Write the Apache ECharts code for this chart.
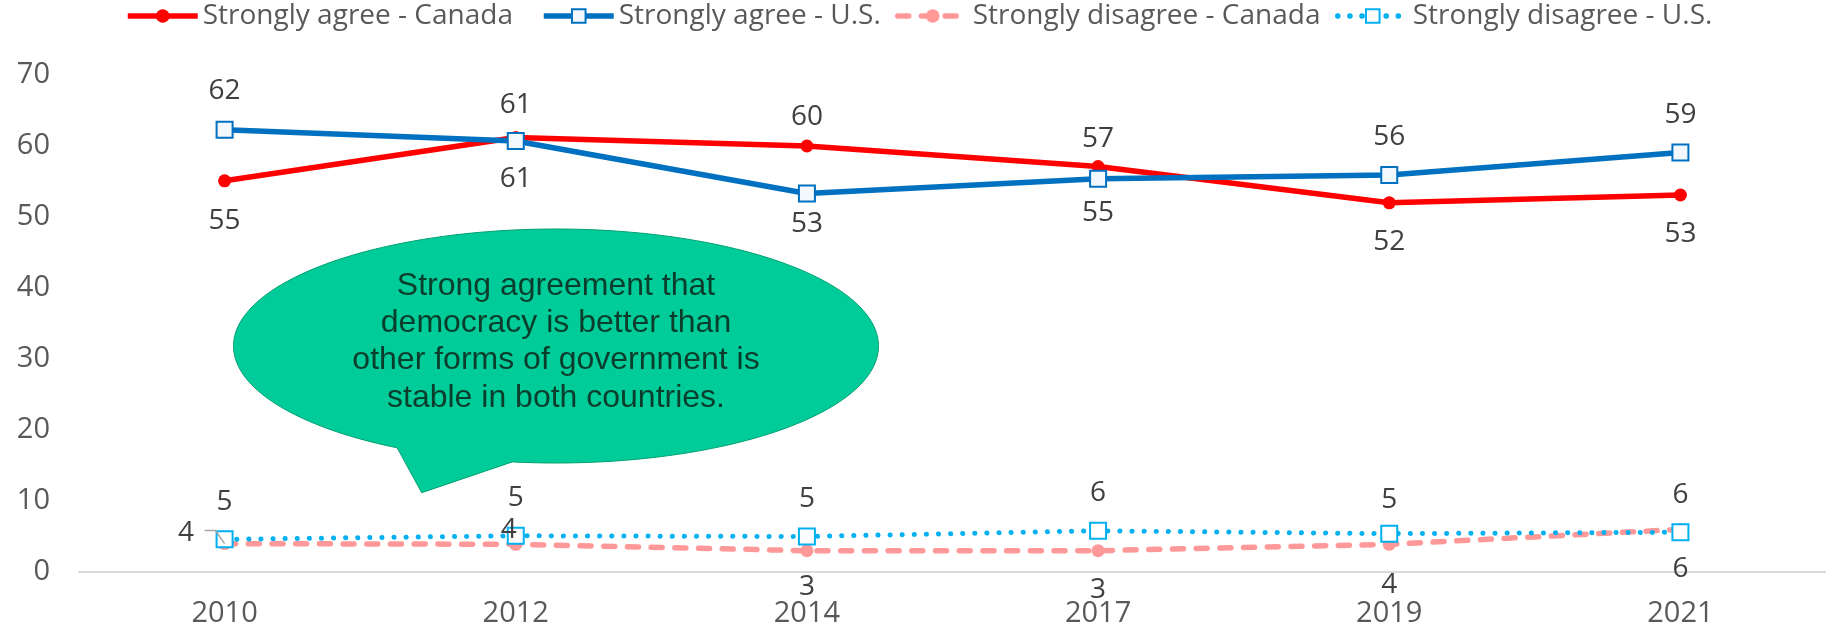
<!DOCTYPE html>
<html>
<head>
<meta charset="utf-8">
<script src="https://cdn.jsdelivr.net/npm/echarts@6/dist/echarts.min.js"></script>
<style>
  html, body { margin: 0; padding: 0; background: #fff; }
  #chart { width: 1826px; height: 628px; }
</style>
</head>
<body>
<div id="chart"></div>
<script>
// values
const years = ['2010', '2012', '2014', '2017', '2019', '2021']
const agreeCanada = [55.1, 61.2, 60.0, 57.1, 52.0, 53.1]
const agreeUS = [62.3, 60.7, 53.3, 55.4, 55.9, 59.1]
const disagreeCanada = [4.0, 3.9, 3.0, 3.0, 3.9, 6.0]
const disagreeUS = [4.6, 5.1, 5.0, 5.8, 5.4, 5.6]
const seriesNames = [
  'Strongly agree - Canada',
  'Strongly agree - U.S.',
  'Strongly disagree - Canada',
  'Strongly disagree - U.S.'
]
const calloutText = 'Strong agreement that\ndemocracy is better than\nother forms of government is\nstable in both countries.'

// where each data label sits, and how far its centre is from the point
const agreeCanadaPos = ['bottom', 'top', 'top', 'top', 'bottom', 'bottom']
const agreeCanadaGap = [41, 33, 29, 28, 40, 40]
const agreeUSPos = ['top', 'bottom', 'bottom', 'bottom', 'top', 'top']
const agreeUSGap = [38, 38, 30, 34, 38, 37]
const disagreeCanadaPos = ['left', 'inside', 'bottom', 'bottom', 'bottom', 'bottom']
const disagreeCanadaGap = [0, 0, 37, 40, 41, 40]
const disagreeUSPos = ['top', 'top', 'top', 'top', 'top', 'top']
const disagreeUSGap = [37, 37, 37, 37, 33, 37]

const FONT = "'Open Sans', 'Noto Sans', sans-serif"
const LABEL_SIZE = 28
const labelBase = {
  show: true,
  color: '#404040',
  fontFamily: FONT,
  fontSize: LABEL_SIZE,
  formatter: (p) => Math.round(p.value)
}

const withLabels = (values, positions, gaps, symbolSize, extra) =>
  values.map((v, i) => {
    const distance = gaps[i] - symbolSize / 2 - LABEL_SIZE / 2 - 0.5
    const item = { value: v, label: { position: positions[i], distance: distance } }
    if (extra && extra[i]) Object.assign(item, extra[i])
    return item
  })

// special placement for the two crowded "4" labels
const disagreeCanadaExtra = {
  0: { label: { position: 'left', distance: 24, offset: [0, -11] } },
  1: { label: { position: 'inside', offset: [-7, -14] } }
}

const legendAt = (name, left) => ({
  data: [name],
  left: left,
  top: 2,
  padding: 0,
  itemWidth: 70,
  itemHeight: 17,
  lineStyle: { width: 5.5 },
  textStyle: { color: '#595959', fontFamily: FONT, fontSize: 28 }
})

// speech bubble outline: ellipse arc plus a tail pointing down-left
const bubblePoints = () => {
  const cx = 556, cy = 346, rx = 322.5, ry = 117
  const t0 = 97.8, t1 = 119.5 - 360
  const pts = []
  for (let t = t0; t >= t1; t -= 2) {
    const r = (t * Math.PI) / 180
    pts.push([cx + rx * Math.cos(r), cy + ry * Math.sin(r)])
  }
  const r1 = (t1 * Math.PI) / 180
  pts.push([cx + rx * Math.cos(r1), cy + ry * Math.sin(r1)])
  pts.push([421.7, 492.7])
  return pts
}

const chart = echarts.init(document.getElementById('chart'))

const option = {
  animation: false,
  legend: [
    legendAt(seriesNames[0], 125),
    legendAt(seriesNames[1], 541),
    legendAt(seriesNames[2], 895),
    legendAt(seriesNames[3], 1335)
  ],
  grid: {
    left: 79,
    right: 0,
    top: 75,
    bottom: 55,
    containLabel: false
  },
  xAxis: {
    type: 'category',
    data: years,
    boundaryGap: true,
    axisLine: { lineStyle: { color: '#d9d9d9', width: 2 } },
    axisTick: { show: false },
    axisLabel: {
      color: '#595959',
      fontFamily: FONT,
      fontSize: 29,
      margin: 27
    },
    splitLine: { show: false }
  },
  yAxis: {
    type: 'value',
    min: 0,
    max: 70,
    interval: 10,
    axisLine: { show: false },
    axisTick: { show: false },
    splitLine: { show: false },
    axisLabel: {
      color: '#595959',
      fontFamily: FONT,
      fontSize: 29,
      margin: 29
    }
  },
  graphic: [
    {
      id: 'bubble',
      type: 'polygon',
      z: 10,
      shape: { points: bubblePoints() },
      style: { fill: '#00cc99', stroke: '#00a070', lineWidth: 1 }
    },
    {
      id: 'bubbleText',
      type: 'text',
      z: 11,
      x: 556,
      y: 342,
      style: {
        text: calloutText,
        align: 'center',
        verticalAlign: 'middle',
        fill: '#0b3d2c',
        font: "32px 'Liberation Sans', Arial, sans-serif",
        lineHeight: 37.3
      }
    }
  ],
  series: [
    {
      name: seriesNames[0],
      type: 'line',
      data: withLabels(agreeCanada, agreeCanadaPos, agreeCanadaGap, 13),
      symbol: 'circle',
      symbolSize: 13,
      lineStyle: { color: '#ff0000', width: 5.5 },
      itemStyle: { color: '#ff0000' },
      label: labelBase
    },
    {
      name: seriesNames[1],
      type: 'line',
      data: withLabels(agreeUS, agreeUSPos, agreeUSGap, 16),
      symbol: 'rect',
      symbolSize: 16,
      lineStyle: { color: '#0070c0', width: 5.5 },
      itemStyle: { color: '#f3f8fc', borderColor: '#0070c0', borderWidth: 2 },
      label: labelBase
    },
    {
      name: seriesNames[2],
      type: 'line',
      data: withLabels(disagreeCanada, disagreeCanadaPos, disagreeCanadaGap, 13, disagreeCanadaExtra),
      symbol: 'circle',
      symbolSize: 13,
      lineStyle: { color: '#ff9999', width: 5.5, type: [11, 12.7], cap: 'round' },
      itemStyle: { color: '#ff9999' },
      label: labelBase
    },
    {
      name: seriesNames[3],
      type: 'line',
      data: withLabels(disagreeUS, disagreeUSPos, disagreeUSGap, 16),
      symbol: 'rect',
      symbolSize: 16,
      lineStyle: { color: '#00b0f0', width: 5, type: [0.1, 12], cap: 'round' },
      itemStyle: { color: '#ffffff', borderColor: '#00b0f0', borderWidth: 2 },
      label: labelBase
    }
  ]
}

chart.setOption(option)

// grey leader line from the moved "4" label (2010) back to its point
const p0 = chart.convertToPixel({ seriesIndex: 2 }, [0, disagreeCanada[0]])
chart.setOption({
  graphic: [
    {
      id: 'leader',
      type: 'polyline',
      z: 12,
      shape: { points: [[p0[0] - 20, p0[1] - 13], [p0[0] - 9, p0[1] - 13], [p0[0], p0[1]]] },
      style: { stroke: '#a6a6a6', lineWidth: 1.5, fill: null }
    }
  ]
})
</script>
</body>
</html>
